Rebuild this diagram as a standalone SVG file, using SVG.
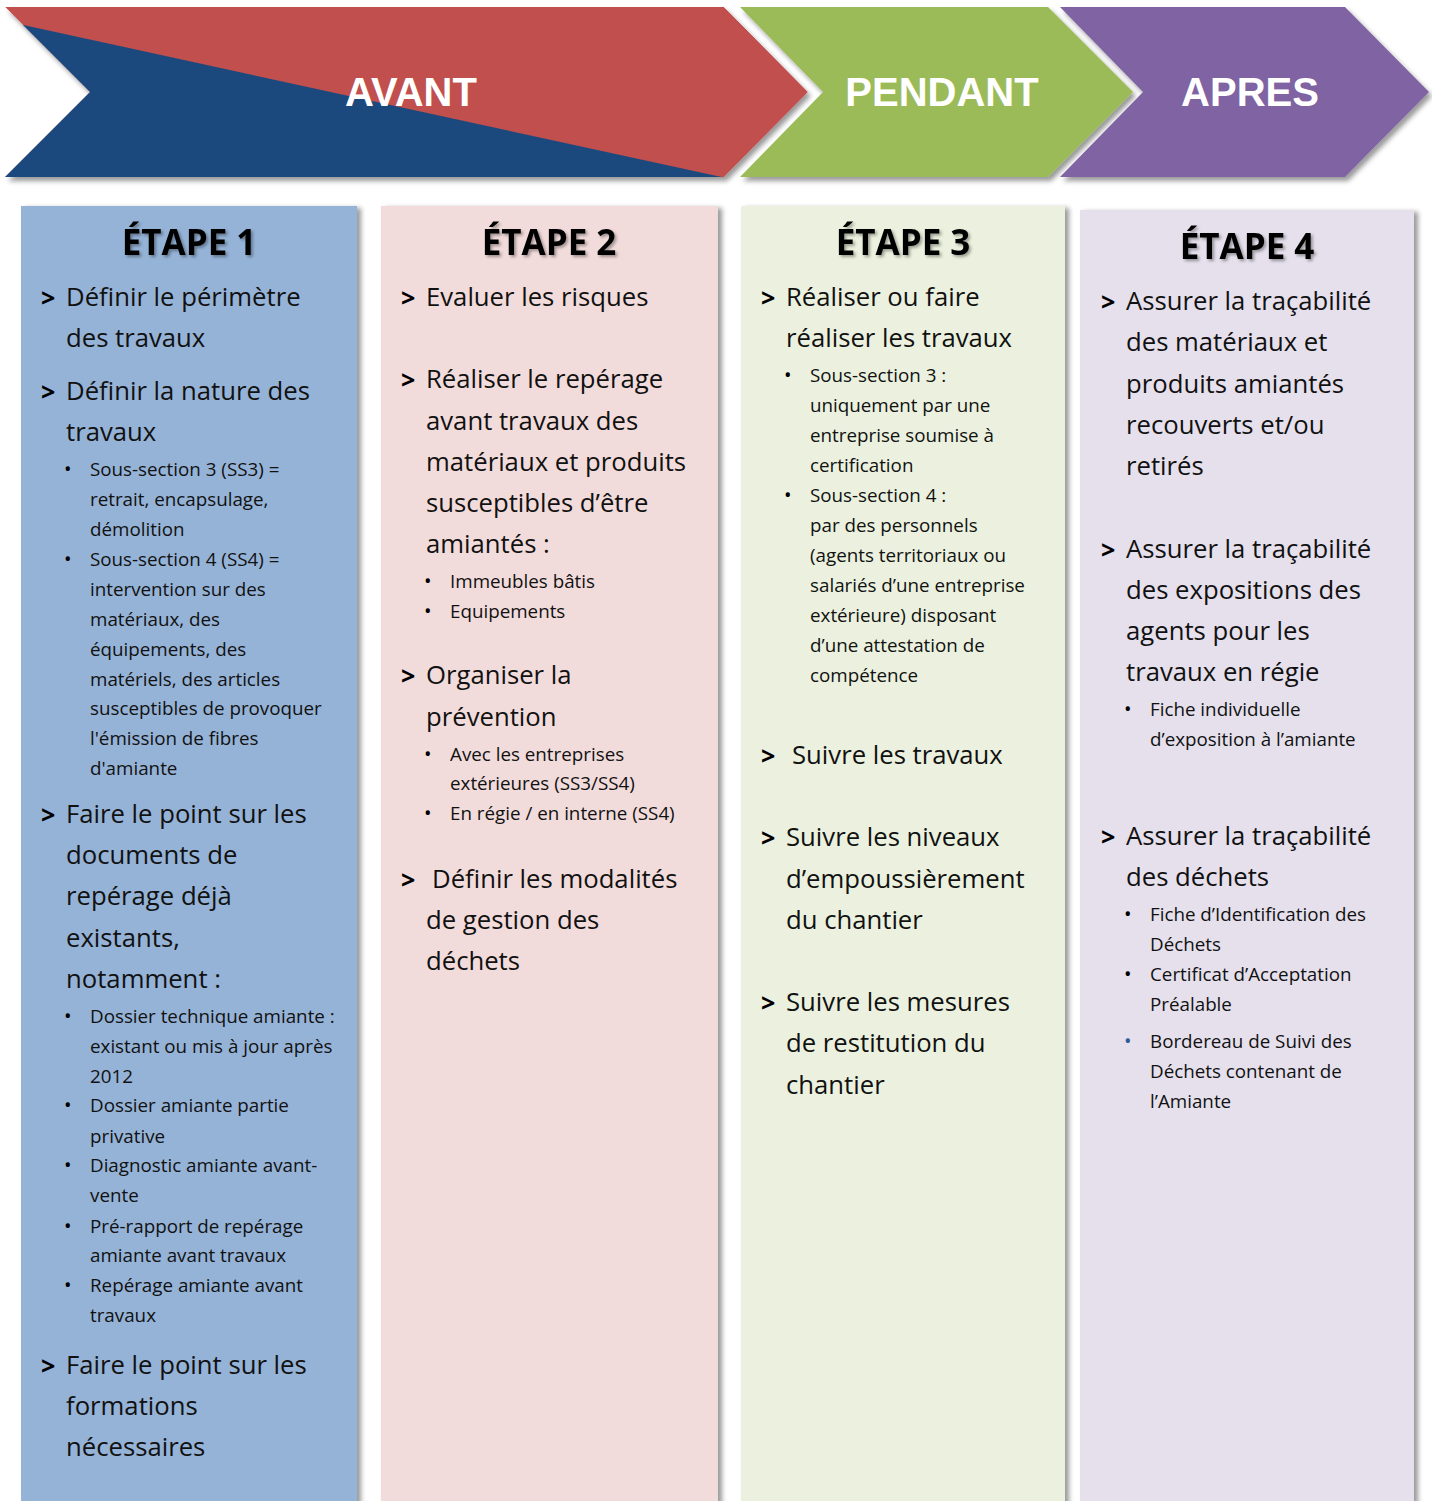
<svg xmlns="http://www.w3.org/2000/svg" width="1432" height="1501" viewBox="0 0 1432 1501">
<defs>
<filter id="arrowShadow" x="-5%" y="-10%" width="115%" height="130%">
<feDropShadow dx="3" dy="4" stdDeviation="2.5" flood-color="#000" flood-opacity="0.4"/>
</filter>
<filter id="colShadow" x="-5%" y="-5%" width="115%" height="110%">
<feDropShadow dx="4" dy="2" stdDeviation="2.5" flood-color="#000" flood-opacity="0.4"/>
</filter>
<filter id="headShadow" x="-10%" y="-20%" width="120%" height="150%">
<feDropShadow dx="2" dy="2" stdDeviation="1.5" flood-color="#000" flood-opacity="0.35"/>
</filter>
<clipPath id="avantClip"><polygon points="5,7 724,7 808,92 724,177 5,177 90,92"/></clipPath>
</defs>
<style>
text { font-family: "Open Sans", "Noto Sans", sans-serif; fill: #111; }
.m { font-size: 25.7px; }
.s { font-size: 18.8px; }
.g { font-size: 25px; font-weight: bold; fill: #000; }
.b { font-size: 20px; fill: #000; }
.h { font-size: 35px; font-weight: bold; text-anchor: middle; fill: #000; }
.ph { font-family: "Liberation Sans", Arial, sans-serif; font-size: 40px; font-weight: bold; fill: #fff; text-anchor: middle; }
</style>
<rect width="1432" height="1501" fill="#fff"/>

<g id="phases">
<g id="avant" filter="url(#arrowShadow)">
<g clip-path="url(#avantClip)">
<polygon points="5,7 724,7 808,92 724,177 5,177 90,92" fill="#C0504D"/>
<polygon points="0,20 740,181 0,181" fill="#1F497D"/>
</g>
</g>
<polygon id="pendant" points="740,7 1048,7 1133,92 1048,177 740,177 823,92" fill="#9BBB59" filter="url(#arrowShadow)"/>
<polygon id="apres" points="1060,7 1345,7 1429,92 1345,177 1060,177 1143,92" fill="#8064A2" filter="url(#arrowShadow)"/>
<text class="ph" x="411" y="106">AVANT</text>
<text class="ph" x="942" y="106">PENDANT</text>
<text class="ph" x="1250" y="106">APRES</text>
</g>

<g id="etape1">
<rect x="21" y="206" width="336" height="1300" fill="#95B3D7" filter="url(#colShadow)"/>
<text class="h" x="189" y="255" filter="url(#headShadow)">ÉTAPE 1</text>
<text class="g" x="41" y="307">&gt;</text>
<text class="g" x="41" y="401">&gt;</text>
<text class="g" x="41" y="824">&gt;</text>
<text class="g" x="41" y="1375">&gt;</text>
<text class="m">
<tspan x="66" y="306">Définir le périmètre</tspan>
<tspan x="66" y="347">des travaux</tspan>
<tspan x="66" y="400">Définir la nature des</tspan>
<tspan x="66" y="441">travaux</tspan>
<tspan x="66" y="823">Faire le point sur les</tspan>
<tspan x="66" y="864">documents de</tspan>
<tspan x="66" y="905">repérage déjà</tspan>
<tspan x="66" y="947">existants,</tspan>
<tspan x="66" y="988">notamment :</tspan>
<tspan x="66" y="1374">Faire le point sur les</tspan>
<tspan x="66" y="1415">formations</tspan>
<tspan x="66" y="1456">nécessaires</tspan>
</text>
<text class="b">
<tspan x="64" y="476">•</tspan>
<tspan x="64" y="566">•</tspan>
<tspan x="64" y="1023">•</tspan>
<tspan x="64" y="1112">•</tspan>
<tspan x="64" y="1172">•</tspan>
<tspan x="64" y="1233">•</tspan>
<tspan x="64" y="1292">•</tspan>
</text>
<text class="s">
<tspan x="90" y="476">Sous-section 3 (SS3) =</tspan>
<tspan x="90" y="506">retrait, encapsulage,</tspan>
<tspan x="90" y="536">démolition</tspan>
<tspan x="90" y="566">Sous-section 4 (SS4) =</tspan>
<tspan x="90" y="596">intervention sur des</tspan>
<tspan x="90" y="626">matériaux, des</tspan>
<tspan x="90" y="656">équipements, des</tspan>
<tspan x="90" y="686">matériels, des articles</tspan>
<tspan x="90" y="715">susceptibles de provoquer</tspan>
<tspan x="90" y="745">l'émission de fibres</tspan>
<tspan x="90" y="775">d'amiante</tspan>
<tspan x="90" y="1023">Dossier technique amiante :</tspan>
<tspan x="90" y="1053">existant ou mis à jour après</tspan>
<tspan x="90" y="1083">2012</tspan>
<tspan x="90" y="1112">Dossier amiante partie</tspan>
<tspan x="90" y="1143">privative</tspan>
<tspan x="90" y="1172">Diagnostic amiante avant-</tspan>
<tspan x="90" y="1202">vente</tspan>
<tspan x="90" y="1233">Pré-rapport de repérage</tspan>
<tspan x="90" y="1262">amiante avant travaux</tspan>
<tspan x="90" y="1292">Repérage amiante avant</tspan>
<tspan x="90" y="1322">travaux</tspan>
</text>
</g>

<g id="etape2">
<rect x="381" y="206" width="337" height="1300" fill="#F2DCDB" filter="url(#colShadow)"/>
<text class="h" x="549" y="255" filter="url(#headShadow)">ÉTAPE 2</text>
<text class="g" x="401" y="307">&gt;</text>
<text class="g" x="401" y="389">&gt;</text>
<text class="g" x="401" y="685">&gt;</text>
<text class="g" x="401" y="889">&gt;</text>
<text class="m">
<tspan x="426" y="306">Evaluer les risques</tspan>
<tspan x="426" y="388">Réaliser le repérage</tspan>
<tspan x="426" y="430">avant travaux des</tspan>
<tspan x="426" y="471">matériaux et produits</tspan>
<tspan x="426" y="512">susceptibles d’être</tspan>
<tspan x="426" y="553">amiantés :</tspan>
<tspan x="426" y="684">Organiser la</tspan>
<tspan x="426" y="726">prévention</tspan>
<tspan x="432" y="888">Définir les modalités</tspan>
<tspan x="426" y="929">de gestion des</tspan>
<tspan x="426" y="970">déchets</tspan>
</text>
<text class="b">
<tspan x="424" y="588">•</tspan>
<tspan x="424" y="618">•</tspan>
<tspan x="424" y="761">•</tspan>
<tspan x="424" y="820">•</tspan>
</text>
<text class="s">
<tspan x="450" y="588">Immeubles bâtis</tspan>
<tspan x="450" y="618">Equipements</tspan>
<tspan x="450" y="761">Avec les entreprises</tspan>
<tspan x="450" y="790">extérieures (SS3/SS4)</tspan>
<tspan x="450" y="820">En régie / en interne (SS4)</tspan>
</text>
</g>

<g id="etape3">
<rect x="741" y="206" width="324" height="1300" fill="#EBF1DE" filter="url(#colShadow)"/>
<text class="h" x="903" y="255" filter="url(#headShadow)">ÉTAPE 3</text>
<text class="g" x="761" y="307">&gt;</text>
<text class="g" x="761" y="765">&gt;</text>
<text class="g" x="761" y="847">&gt;</text>
<text class="g" x="761" y="1012">&gt;</text>
<text class="m">
<tspan x="786" y="306">Réaliser ou faire</tspan>
<tspan x="786" y="347">réaliser les travaux</tspan>
<tspan x="792" y="764">Suivre les travaux</tspan>
<tspan x="786" y="846">Suivre les niveaux</tspan>
<tspan x="786" y="888">d’empoussièrement</tspan>
<tspan x="786" y="929">du chantier</tspan>
<tspan x="786" y="1011">Suivre les mesures</tspan>
<tspan x="786" y="1052">de restitution du</tspan>
<tspan x="786" y="1094">chantier</tspan>
</text>
<text class="b">
<tspan x="784" y="382">•</tspan>
<tspan x="784" y="502">•</tspan>
</text>
<text class="s">
<tspan x="810" y="382">Sous-section 3 :</tspan>
<tspan x="810" y="412">uniquement par une</tspan>
<tspan x="810" y="442">entreprise soumise à</tspan>
<tspan x="810" y="472">certification</tspan>
<tspan x="810" y="502">Sous-section 4 :</tspan>
<tspan x="810" y="532">par des personnels</tspan>
<tspan x="810" y="562">(agents territoriaux ou</tspan>
<tspan x="810" y="592">salariés d’une entreprise</tspan>
<tspan x="810" y="622">extérieure) disposant</tspan>
<tspan x="810" y="652">d’une attestation de</tspan>
<tspan x="810" y="682">compétence</tspan>
</text>
</g>

<g id="etape4">
<rect x="1080" y="210" width="334" height="1300" fill="#E5E0EC" filter="url(#colShadow)"/>
<text class="h" x="1247" y="259" filter="url(#headShadow)">ÉTAPE 4</text>
<text class="g" x="1101" y="311">&gt;</text>
<text class="g" x="1101" y="559">&gt;</text>
<text class="g" x="1101" y="846">&gt;</text>
<text class="m">
<tspan x="1126" y="310">Assurer la traçabilité</tspan>
<tspan x="1126" y="351">des matériaux et</tspan>
<tspan x="1126" y="393">produits amiantés</tspan>
<tspan x="1126" y="434">recouverts et/ou</tspan>
<tspan x="1126" y="475">retirés</tspan>
<tspan x="1126" y="558">Assurer la traçabilité</tspan>
<tspan x="1126" y="599">des expositions des</tspan>
<tspan x="1126" y="640">agents pour les</tspan>
<tspan x="1126" y="681">travaux en régie</tspan>
<tspan x="1126" y="845">Assurer la traçabilité</tspan>
<tspan x="1126" y="886">des déchets</tspan>
</text>
<text class="b">
<tspan x="1124" y="716">•</tspan>
<tspan x="1124" y="921">•</tspan>
<tspan x="1124" y="981">•</tspan>
<tspan x="1124" y="1048" fill="#2F5C99">•</tspan>
</text>
<text class="s">
<tspan x="1150" y="716">Fiche individuelle</tspan>
<tspan x="1150" y="746">d’exposition à l’amiante</tspan>
<tspan x="1150" y="921">Fiche d’Identification des</tspan>
<tspan x="1150" y="951">Déchets</tspan>
<tspan x="1150" y="981">Certificat d’Acceptation</tspan>
<tspan x="1150" y="1011">Préalable</tspan>
<tspan x="1150" y="1048">Bordereau de Suivi des</tspan>
<tspan x="1150" y="1078">Déchets contenant de</tspan>
<tspan x="1150" y="1108">l’Amiante</tspan>
</text>
</g>
</svg>
